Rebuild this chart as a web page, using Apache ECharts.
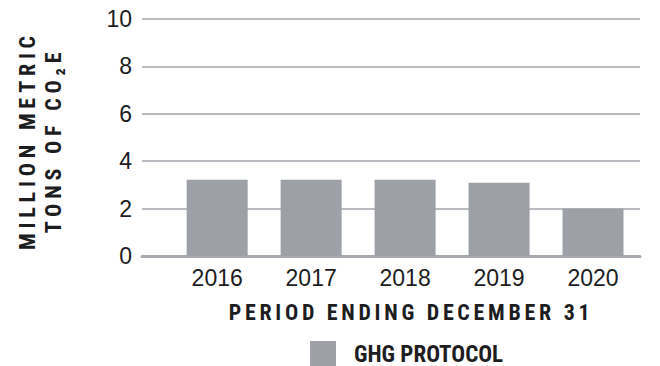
<!DOCTYPE html>
<html>
<head>
<meta charset="utf-8">
<script src="https://cdn.jsdelivr.net/npm/echarts@6/dist/echarts.min.js"></script>
<style>
  html, body { margin: 0; padding: 0; background: #fff; }
  #chart { width: 660px; height: 366px; }
  /* tracked-out capitals for the axis titles */
  #chart text[style*="Arial Narrow"] { letter-spacing: 3.7px; }
  #chart text[style*="Nimbus Sans Narrow"] { letter-spacing: 4.8px; }
</style>
</head>
<body>
<div id="chart"></div>
<script>
// Reporting periods and emissions (million metric tons of CO2e)
const years = [2016, 2017, 2018, 2019, 2020];
const emissions = [3.22, 3.22, 3.22, 3.09, 2.0];
const seriesName = 'GHG PROTOCOL';
const yAxisTitle = 'MILLION METRIC\nTONS OF CO\u2082E';
const xAxisTitle = 'PERIOD ENDING DECEMBER 31';
const yTicks = { min: 0, max: 10, step: 2 };

const TEXT = '#1d1d1f';
const BAR = '#9da0a7';
const NUM_FONT = "'Liberation Sans', Arial, sans-serif";
const X_TITLE_FONT = "'Roboto Condensed', 'Arial Narrow', sans-serif";
const Y_TITLE_FONT = "'Roboto Condensed', 'Nimbus Sans Narrow', sans-serif";
const LEGEND_FONT = "'Roboto Condensed', sans-serif";

const chart = echarts.init(document.getElementById('chart'), null, { renderer: 'svg' });

chart.setOption({
  animation: false,
  grid: { left: 142, right: 20, top: 19, bottom: 110, containLabel: false },
  xAxis: {
    type: 'value',
    min: 2015.2,
    max: 2020.5,
    axisLine: { show: true, onZero: false, lineStyle: { color: '#a6a9ae', width: 3 } },
    axisTick: { show: false },
    splitLine: { show: false },
    axisLabel: {
      customValues: years,
      formatter: v => String(v),
      color: TEXT,
      fontFamily: NUM_FONT,
      fontSize: 23,
      margin: 10
    }
  },
  yAxis: {
    type: 'value',
    min: yTicks.min,
    max: yTicks.max,
    interval: yTicks.step,
    name: yAxisTitle,
    nameLocation: 'middle',
    nameRotate: 90,
    nameGap: 76,
    nameTextStyle: {
      fontFamily: Y_TITLE_FONT,
      fontWeight: 'bold',
      fontSize: 22,
      lineHeight: 26,
      color: TEXT,
      padding: [0, 6, 0, 0]
    },
    axisLine: { show: false },
    axisTick: { show: false },
    splitLine: { show: true, lineStyle: { color: '#b9bcc1', width: 2 } },
    axisLabel: {
      color: TEXT,
      fontFamily: NUM_FONT,
      fontSize: 23,
      margin: 10
    }
  },
  legend: {
    data: [seriesName],
    left: 310,
    top: 341,
    padding: 0,
    icon: 'rect',
    itemWidth: 26,
    itemHeight: 26,
    textStyle: {
      fontFamily: LEGEND_FONT,
      fontWeight: 'bold',
      fontSize: 23,
      color: TEXT,
      padding: [0, 0, 0, 13]
    }
  },
  graphic: [{
    type: 'text',
    x: 411,
    y: 312,
    style: {
      text: xAxisTitle,
      font: 'bold 22px ' + X_TITLE_FONT,
      fill: TEXT,
      align: 'center',
      verticalAlign: 'middle'
    }
  }],
  series: [{
    name: seriesName,
    type: 'bar',
    barWidth: 61,
    itemStyle: { color: BAR },
    data: years.map((y, i) => [y, emissions[i]])
  }]
});
</script>
</body>
</html>
